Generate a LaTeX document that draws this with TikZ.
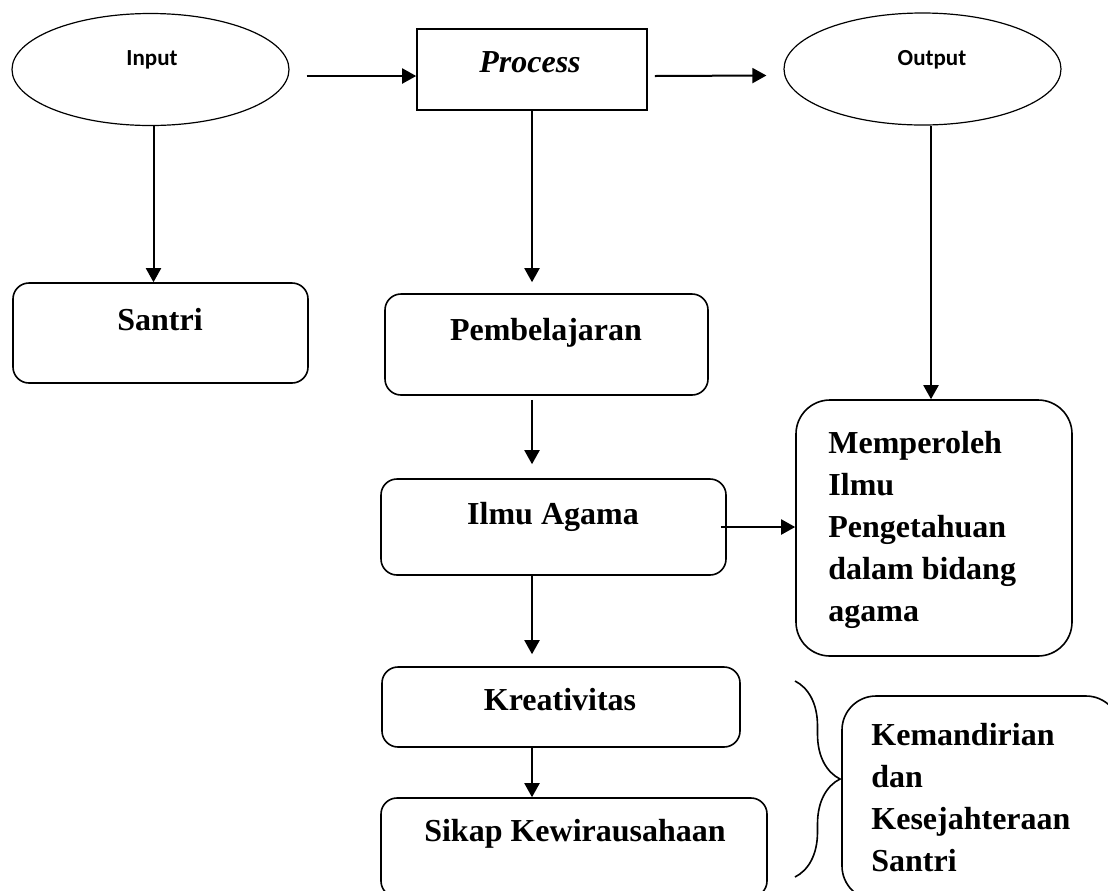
\documentclass[tikz,border=0pt]{standalone}
\usepackage{fontspec}
\setmainfont{Liberation Serif}
\newfontfamily\calibri{Carlito}
\usepackage{tikz}
\usetikzlibrary{shapes.geometric, arrows.meta, positioning, calc, decorations.pathreplacing}
\tikzset{
  oval/.style={ellipse, draw, line width=0.6pt, minimum width=138.5pt,
    minimum height=56pt, inner sep=0pt},
  procbox/.style={rectangle, draw, line width=0.8pt, inner sep=0pt},
  block/.style={rectangle, draw, rounded corners=8pt, line width=0.8pt, inner sep=0pt},
  bigblock/.style={rectangle, draw, rounded corners=17pt, line width=0.8pt, inner sep=0pt},
  lbl/.style={font=\fontsize{16}{21}\selectfont\bfseries, inner sep=0pt, anchor=base},
  multilbl/.style={font=\fontsize{16}{21}\selectfont\bfseries, inner sep=0pt,
    anchor=north west, align=left},
  ovallbl/.style={font=\calibri\fontsize{11.5}{14}\selectfont\bfseries, inner sep=0pt, anchor=base},
  arrow/.style={-{Triangle[length=7pt,width=7.5pt]}, line width=1pt},
  curlybrace/.style={decorate, decoration={brace, amplitude=22.5pt}, line width=0.8pt}
}

\begin{document}
\begin{tikzpicture}[x=0.5pt, y=-0.5pt]
  \useasboundingbox (0,0) rectangle (1108,890);
  \clip (0,0) rectangle (1108,890);

  % Top row
  \node[oval] (input) at (150.5,69.5) {};
  \node[ovallbl] (inputtxt) at (152,65) {Input};
  \node[procbox, minimum width=115pt, minimum height=40.5pt] (process) at (532,69.5) {};
  \node[lbl] (processtxt) at (530,72) {\itshape Process};
  \node[oval] (output) at (922.5,69) {};
  \node[ovallbl] (outputtxt) at (932,65) {Output};

  % Boxes
  \node[block, minimum width=147.5pt, minimum height=50pt] (santri) at (160.5,333) {};
  \node[lbl] (santritxt) at (160,330) {Santri};
  \node[block, minimum width=161.5pt, minimum height=50.5pt] (pemb) at (546.5,344.5) {};
  \node[lbl] (pembtxt) at (546,340) {Pembelajaran};
  \node[block, minimum width=172.5pt, minimum height=48pt] (ilmu) at (553.5,527) {};
  \node[lbl] (ilmutxt) at (553,524) {Ilmu Agama};
  \node[block, minimum width=179pt, minimum height=40pt] (kreat) at (561,707) {};
  \node[lbl] (kreattxt) at (560,710) {Kreativitas};
  \node[block, minimum width=193pt, minimum height=49.5pt] (sikap) at (574,847.5) {};
  \node[lbl] (sikaptxt) at (575,841) {Sikap Kewirausahaan};
  \node[bigblock, minimum width=138pt, minimum height=128pt] (mem) at (934,528) {};
  \node[multilbl] (memtxt) at (828,431) {Memperoleh\\Ilmu\\Pengetahuan\\dalam bidang\\agama};
  \node[bigblock, minimum width=139pt, minimum height=102pt] (kem) at (981,798) {};
  \node[multilbl] (kemtxt) at (871,723) {Kemandirian\\dan\\Kesejahteraan\\Santri};

  % Arrows
  \draw[arrow] ([shift={(17,6.5)}]input.east) -- ([yshift=-3.25pt]process.west);
  \draw[arrow] ([shift={(7,6.5)}]process.east) -- ([shift={(-17,6.5)}]output.west);
  \draw[arrow] ([xshift=1.5pt]input.south) -- ([xshift=1.5pt]input.south |- santri.north);
  \draw[arrow] (process.south) -- ([yshift=5.5pt]process.south |- pemb.north);
  \draw[arrow] ([yshift=-2pt]pemb.south -| process.south) -- ([yshift=7pt]process.south |- ilmu.north);
  \draw[arrow] (ilmu.south -| process.south) -- ([yshift=6pt]process.south |- kreat.north);
  \draw[arrow] (kreat.south -| process.south) -- (process.south |- sikap.north);
  \draw[arrow] ([xshift=-3pt]ilmu.east) -- (ilmu.east -| mem.west);
  \draw[arrow] ([xshift=4.25pt]output.south) -- ([xshift=4.25pt]output.south |- mem.north);

  % Brace
  \coordinate (bracetop) at (795,681);
  \coordinate (bracebot) at (795,877);
  \draw[curlybrace] (bracetop) -- (bracebot);
\end{tikzpicture}
\end{document}
